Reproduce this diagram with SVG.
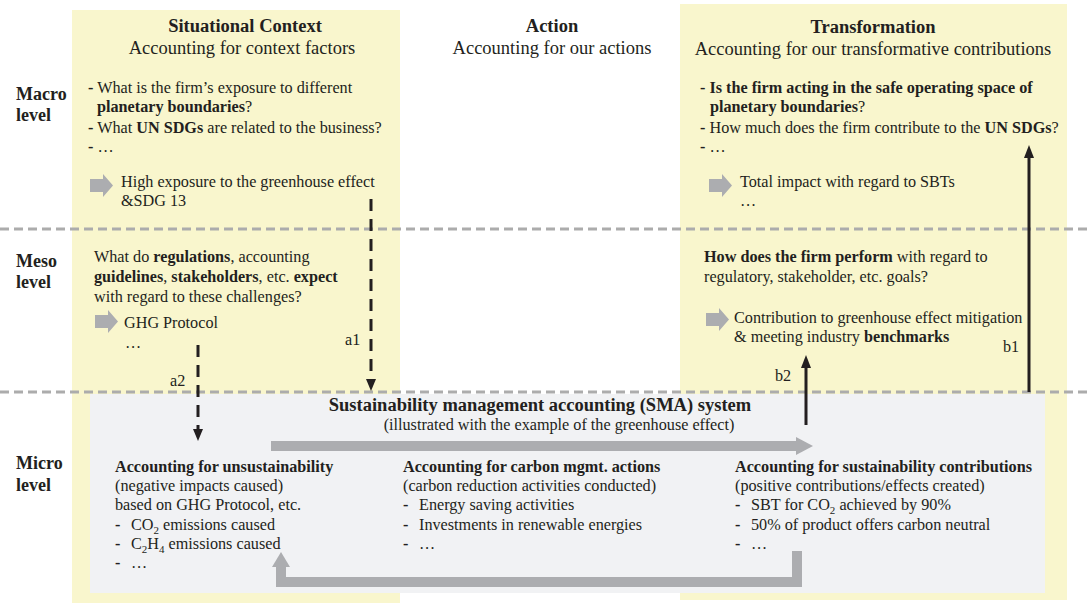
<svg xmlns="http://www.w3.org/2000/svg" width="1088" height="603" viewBox="0 0 1088 603">
<style>
text{font-family:"Liberation Serif","Times New Roman",serif;fill:#231f20;font-size:16.2px}
.b{font-weight:bold}
.h{font-size:18.5px}
.lv{font-size:18px;font-weight:bold}
.sub{font-size:11px}
.gl{stroke:#acacac;stroke-width:3;stroke-dasharray:9,5;fill:none}
.blk{fill:#acadb0}
</style>
<defs>
<path id="blockarrow" d="M0,5 H13 V0 L23,11.5 L13,23 V18 H0 z"/>
</defs>

<g id="panel-context">
<rect x="72" y="10" width="328" height="593" fill="#f9f6cd"/>
</g>
<g id="panel-transformation">
<rect x="680" y="4" width="387" height="596" fill="#f9f6cd"/>
</g>
<g id="level-lines">
<line class="gl" x1="0" y1="229" x2="1088" y2="229"/>
<line class="gl" x1="0" y1="392" x2="1088" y2="392"/>
</g>

<g id="sma-system">
<rect x="90" y="394" width="955" height="199" fill="#f1f2f4"/>
<text class="b" x="540" y="411" text-anchor="middle" style="font-size:18.5px">Sustainability management accounting (SMA) system</text>
<text x="559" y="430" text-anchor="middle">(illustrated with the example of the greenhouse effect)</text>
</g>

<g id="level-labels">
<text class="lv" x="16" y="100">Macro</text>
<text class="lv" x="16" y="121">level</text>
<text class="lv" x="16" y="267">Meso</text>
<text class="lv" x="16" y="288">level</text>
<text class="lv" x="16" y="469">Micro</text>
<text class="lv" x="16" y="491">level</text>
</g>

<g id="header-context">
<text class="h b" x="245" y="32" text-anchor="middle">Situational Context</text>
<text class="h" x="242" y="54" text-anchor="middle">Accounting for context factors</text>
</g>
<g id="header-action">
<text class="h b" x="552" y="32" text-anchor="middle">Action</text>
<text class="h" x="552" y="54" text-anchor="middle">Accounting for our actions</text>
</g>
<g id="header-transformation">
<text class="h b" x="873" y="33" text-anchor="middle">Transformation</text>
<text class="h" x="873" y="55" text-anchor="middle">Accounting for our transformative contributions</text>
</g>

<g id="macro-context">
<text x="88" y="93"><tspan class="b">-</tspan> What is the firm’s exposure to different</text>
<text x="97" y="112"><tspan class="b">planetary boundaries</tspan>?</text>
<text x="88" y="133"><tspan class="b">-</tspan> What <tspan class="b">UN SDGs</tspan> are related to the business?</text>
<text x="88" y="152"><tspan class="b">-</tspan> …</text>
<use href="#blockarrow" x="90" y="174" class="blk"/>
<text x="121" y="187">High exposure to the greenhouse effect</text>
<text x="121" y="206">&amp;SDG 13</text>
</g>

<g id="meso-context">
<text x="94" y="262">What do <tspan class="b">regulations</tspan>, accounting</text>
<text x="94" y="282"><tspan class="b">guidelines</tspan>, <tspan class="b">stakeholders</tspan>, etc. <tspan class="b">expect</tspan></text>
<text x="94" y="302">with regard to these challenges?</text>
<use href="#blockarrow" x="95" y="310" class="blk"/>
<text x="124" y="328">GHG Protocol</text>
<text x="125" y="348">…</text>
</g>

<g id="macro-transformation">
<text x="700" y="93"><tspan class="b">- Is the firm acting in the safe operating space of</tspan></text>
<text x="710" y="112"><tspan class="b">planetary boundaries</tspan>?</text>
<text x="700" y="133"><tspan class="b">-</tspan> How much does the firm contribute to the <tspan class="b">UN SDGs</tspan>?</text>
<text x="700" y="152"><tspan class="b">-</tspan> …</text>
<use href="#blockarrow" x="709" y="174" class="blk"/>
<text x="740" y="187">Total impact with regard to SBTs</text>
<text x="740" y="206">…</text>
</g>

<g id="meso-transformation">
<text x="704" y="262"><tspan class="b">How does the firm perform</tspan> with regard to</text>
<text x="704" y="282">regulatory, stakeholder, etc. goals?</text>
<use href="#blockarrow" x="706" y="308" class="blk"/>
<text x="734" y="323">Contribution to greenhouse effect mitigation</text>
<text x="734" y="342">&amp; meeting industry <tspan class="b">benchmarks</tspan></text>
</g>

<g id="col-unsustainability">
<text class="b" x="115" y="472">Accounting for unsustainability</text>
<text x="115" y="491">(negative impacts caused)</text>
<text x="115" y="510">based on GHG Protocol, etc.</text>
<text x="115" y="530"><tspan class="b">-</tspan><tspan x="131">CO</tspan><tspan class="sub" dy="4">2</tspan><tspan dy="-4"> emissions caused</tspan></text>
<text x="115" y="549"><tspan class="b">-</tspan><tspan x="131">C</tspan><tspan class="sub" dy="4">2</tspan><tspan dy="-4">H</tspan><tspan class="sub" dy="4">4</tspan><tspan dy="-4"> emissions caused</tspan></text>
<text x="115" y="568"><tspan class="b">-</tspan><tspan x="131">…</tspan></text>
</g>

<g id="col-actions">
<text class="b" x="403" y="472">Accounting for carbon mgmt. actions</text>
<text x="403" y="491">(carbon reduction activities conducted)</text>
<text x="403" y="510"><tspan class="b">-</tspan><tspan x="419">Energy saving activities</tspan></text>
<text x="403" y="530"><tspan class="b">-</tspan><tspan x="419">Investments in renewable energies</tspan></text>
<text x="403" y="549"><tspan class="b">-</tspan><tspan x="419">…</tspan></text>
</g>

<g id="col-contributions">
<text class="b" x="735" y="472">Accounting for sustainability contributions</text>
<text x="735" y="491">(positive contributions/effects created)</text>
<text x="735" y="510"><tspan class="b">-</tspan><tspan x="751">SBT for CO</tspan><tspan class="sub" dy="4">2</tspan><tspan dy="-4"> achieved by 90%</tspan></text>
<text x="735" y="530"><tspan class="b">-</tspan><tspan x="751">50% of product offers carbon neutral</tspan></text>
<text x="735" y="549"><tspan class="b">-</tspan><tspan x="751">…</tspan></text>
</g>

<g id="connectors">
<path d="M271,446 H798" stroke="#acadb0" stroke-width="10" fill="none"/>
<path d="M796,437 L813,446 L796,455 z" fill="#acadb0"/>
<path d="M797,551 V582 H281 V566" stroke="#acadb0" stroke-width="10" fill="none"/>
<path d="M272,567 L281,552 L290,567 z" fill="#acadb0"/>
<line x1="371" y1="199" x2="371" y2="380" stroke="#231f20" stroke-width="3" stroke-dasharray="12,8"/>
<path d="M366,379 L371,391 L376,379 z" fill="#231f20"/>
<text x="345" y="345">a1</text>
<line x1="198" y1="345" x2="198" y2="430" stroke="#231f20" stroke-width="3" stroke-dasharray="12,8"/>
<path d="M193,429 L198,441 L203,429 z" fill="#231f20"/>
<text x="170" y="386">a2</text>
<line x1="1029" y1="392" x2="1029" y2="157" stroke="#231f20" stroke-width="3"/>
<path d="M1024,158 L1029,145 L1034,158 z" fill="#231f20"/>
<text x="1003" y="352">b1</text>
<line x1="806" y1="425" x2="806" y2="367" stroke="#231f20" stroke-width="3"/>
<path d="M801,368 L806,355 L811,368 z" fill="#231f20"/>
<text x="775" y="381">b2</text>
</g>
</svg>
